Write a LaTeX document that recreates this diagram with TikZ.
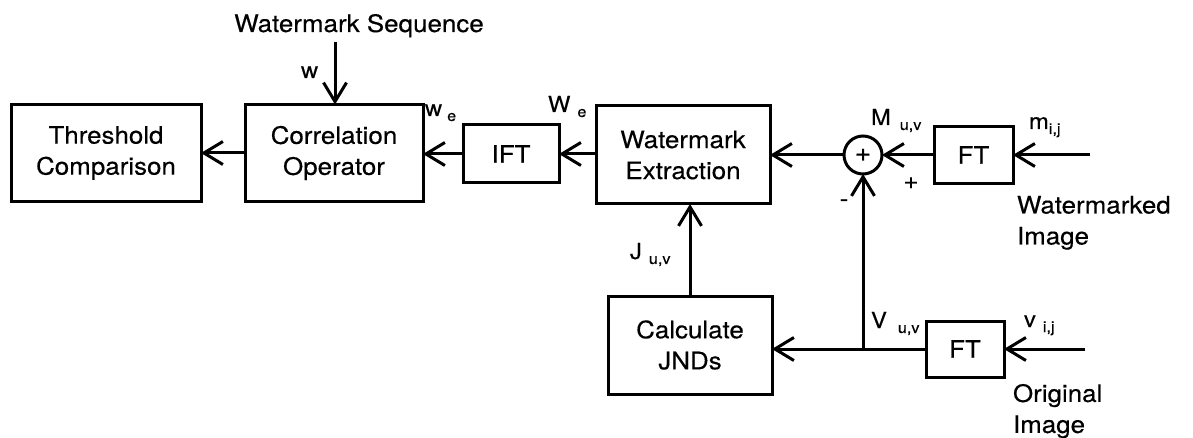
\documentclass[tikz,border=0pt]{standalone}
\usepackage{fontspec}
\setmainfont{TeX Gyre Heros}[FakeStretch=1.08,FakeBold=0.35]
\usetikzlibrary{arrows.meta}
\tikzset{
  blk/.style={draw, line width=3pt, align=center, inner sep=0pt, outer sep=0pt,
    font=\fontsize{24}{31}\selectfont},
  conn/.style={line width=3pt, -{Straight Barb[length=19pt,width=23pt]}},
  lbl/.style={inner sep=0pt, outer sep=0pt, anchor=base west, font=\fontsize{22}{24}\selectfont},
  note/.style={inner sep=0pt, outer sep=0pt, align=left, anchor=north west, font=\fontsize{24}{31}\selectfont},
}
\newcommand\lsub[2]{\hspace{#1}\raisebox{-5pt}{\fontsize{15}{15}\selectfont #2}}
\begin{document}
\begin{tikzpicture}[x=1pt,y=-1pt]
\useasboundingbox (0,0) rectangle (1193,438);
% blocks
\node[blk, minimum width=190, minimum height=97] (thr) at (106,153) {Threshold\\Comparison};
\node[blk, minimum width=178, minimum height=97] (cor) at (334,153) {Correlation\\Operator};
\node[blk, minimum width=96, minimum height=58] (ift) at (511,154) {IFT};
\node[blk, minimum width=174, minimum height=98] (ext) at (683,155) {Watermark\\Extraction};
\node[draw, circle, line width=3pt, minimum size=38, inner sep=0pt, outer sep=0pt,
  font=\fontsize{26}{26}\selectfont] (sum) at (863,155) {+};
\node[blk, minimum width=79, minimum height=57] (ft1) at (973.5,155) {FT};
\node[blk, minimum width=164, minimum height=98] (calc) at (690,345) {Calculate\\JNDs};
\node[blk, minimum width=78, minimum height=56] (ft2) at (965,349) {FT};
% free ends
\coordinate (in1) at (1090,155);
\coordinate (in2) at (1085,349);
\coordinate (wtop) at (335,42);
\coordinate (jn) at (sum |- ft2);
% connectors
\draw[conn] (in1) -- (ft1.east);
\draw[conn] (ft1.west) -- (sum.east);
\draw[conn] (sum.west) -- (sum.west -| ext.east);
\draw[conn] (ext.west |- ift) -- (ift.east);
\draw[conn] (ift.west) -- (ift.west -| cor.east);
\draw[conn] (cor.west) -- (cor.west -| thr.east);
\draw[conn] (wtop) -- (wtop |- cor.north);
\draw[conn] (in2) -- (ft2.east);
\draw[conn] (ft2.west) -- (ft2.west -| calc.east);
\draw[conn] (jn) -- (sum.south);
\draw[conn] (calc.north) -- (calc.north |- ext.south);
% labels
\node[inner sep=0pt, anchor=base, font=\fontsize{24}{24}\selectfont] (wseq) at (359,32) {Watermark Sequence};
\node[lbl] (lw) at (301,78) {w};
\node[lbl] (lwe) at (425,116) {w\lsub{5pt}{e}};
\node[lbl] (lWe) at (548,112) {W\lsub{7pt}{e}};
\node[lbl] (lM) at (871,125) {M\lsub{9pt}{u,v}};
\node[lbl] (lm) at (1029,129) {m\lsub{0pt}{i,j}};
\node[lbl, font=\fontsize{24}{24}\selectfont, anchor=center] (lplus) at (911,183) {+};
\node[lbl, font=\fontsize{24}{24}\selectfont, anchor=center] (lminus) at (844,203) {-};
\node[note] (wimg) at (1017,196) {Watermarked\\Image};
\node[lbl] (lJ) at (630,259) {J\lsub{7pt}{u,v}};
\node[lbl] (lV) at (871,328) {V\lsub{11pt}{u,v}};
\node[lbl] (lv) at (1024,327) {v\lsub{7pt}{i,j}};
\node[note] (oimg) at (1013,384) {Original\\Image};
\end{tikzpicture}
\end{document}
